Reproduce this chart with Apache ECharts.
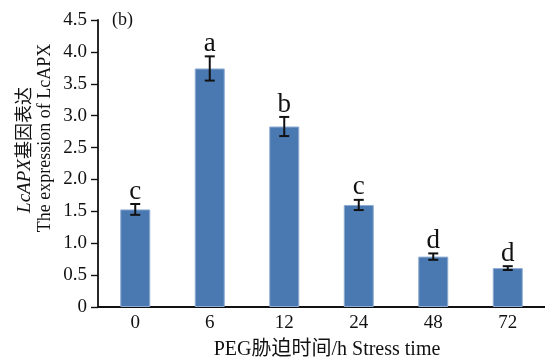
<!DOCTYPE html>
<html><head><meta charset="utf-8">
<script src="https://cdn.jsdelivr.net/npm/echarts@6/dist/echarts.min.js"></script>
<style>html,body{margin:0;padding:0;background:#fff}#c{width:545px;height:359px}</style>
</head><body><div id="c"></div>
<script>
var categories = ['0', '6', '12', '24', '48', '72'];
var values = [1.53, 3.74, 2.83, 1.60, 0.79, 0.61];
var errors = [0.085, 0.19, 0.15, 0.08, 0.05, 0.03];
var letters = ['c', 'a', 'b', 'c', 'd', 'd'];
var yTicks = ['0', '0.5', '1.0', '1.5', '2.0', '2.5', '3.0', '3.5', '4.0', '4.5'];

var serif = '"Liberation Serif", "Times New Roman", "Noto Sans CJK SC", serif';
var chart = echarts.init(document.getElementById('c'));
chart.setOption({
  animation: false,
  grid: {left: 98, right: -3, top: 20, bottom: 52, containLabel: false},
  xAxis: {
    type: 'category', data: categories,
    axisLine: {lineStyle: {color: '#111', width: 1.8}},
    axisTick: {show: false},
    axisLabel: {color: '#111', fontFamily: serif, fontSize: 19, margin: 7}
  },
  yAxis: {
    type: 'value', min: 0, max: 4.5, interval: 0.5,
    splitLine: {show: false},
    axisLine: {show: true, lineStyle: {color: '#111', width: 1.8}},
    axisTick: {show: true, length: 7, lineStyle: {color: '#111', width: 1.4}},
    axisLabel: {color: '#111', fontFamily: serif, fontSize: 19, margin: 11,
      formatter: function (v) { return yTicks[Math.round(v / 0.5)]; }}
  },
  series: [{
    type: 'bar', data: values, barWidth: 30,
    itemStyle: {color: '#4a79b1', borderColor: '#8fadd2', borderWidth: 1}
  }, {
    type: 'custom',
    data: values.map(function (v, i) { return [i, v, errors[i]]; }),
    renderItem: function (params, api) {
      var i = api.value(0), v = api.value(1), e = api.value(2);
      var top = api.coord([i, v + e]);
      var bot = api.coord([i, v - e]);
      var hw = 5;
      return {type: 'group', children: [
        {type: 'line', shape: {x1: top[0], y1: top[1], x2: bot[0], y2: bot[1]}, style: {stroke: '#111', lineWidth: 2}},
        {type: 'line', shape: {x1: top[0] - hw, y1: top[1], x2: top[0] + hw, y2: top[1]}, style: {stroke: '#111', lineWidth: 2}},
        {type: 'line', shape: {x1: bot[0] - hw, y1: bot[1], x2: bot[0] + hw, y2: bot[1]}, style: {stroke: '#111', lineWidth: 2}},
        {type: 'text', x: top[0], y: top[1] + 1, style: {text: letters[params.dataIndex], font: '27px ' + serif, fill: '#111', align: 'center', verticalAlign: 'bottom'}}
      ]};
    },
    z: 5
  }],
  graphic: [
    {type: 'text', x: 112, y: 20, style: {text: '(b)', font: '18px ' + serif, fill: '#111', verticalAlign: 'middle'}},
    {type: 'text', x: 25, y: 150, rotation: Math.PI / 2,
      style: {text: '{i|LcAPX}{n|基因表达}', align: 'center', verticalAlign: 'middle',
        rich: {i: {fontFamily: serif, fontStyle: 'italic', fontSize: 19, fill: '#111'}, n: {fontFamily: serif, fontSize: 18, fill: '#111'}}}},
    {type: 'text', x: 45, y: 138, rotation: Math.PI / 2,
      style: {text: 'The expression of LcAPX', font: '18px ' + serif, fill: '#111', align: 'center', verticalAlign: 'middle'}},
    {type: 'text', x: 327, y: 350, style: {text: 'PEG胁迫时间/h Stress time', font: '20px ' + serif, fill: '#111', align: 'center', verticalAlign: 'middle'}}
  ]
});
</script></body></html>
